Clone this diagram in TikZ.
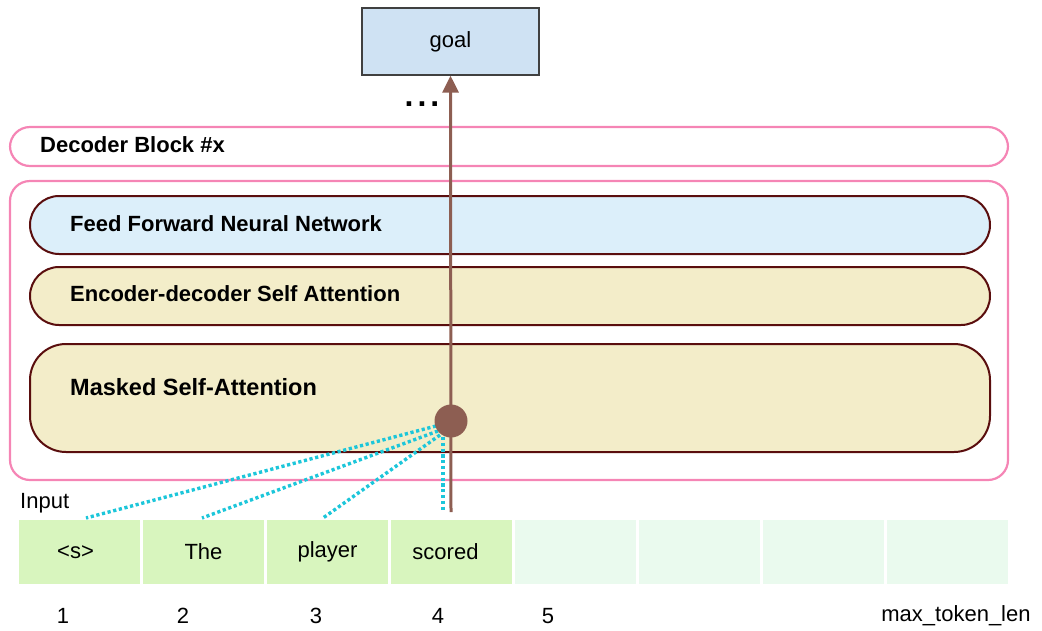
\documentclass[tikz,border=0pt]{standalone}
\usepackage{fontspec}
\setmainfont{Liberation Sans}
\usetikzlibrary{arrows.meta}
\definecolor{goalfill}{HTML}{CFE2F3}
\definecolor{pinkb}{HTML}{F585B5}
\definecolor{maroon}{HTML}{5A0E0E}
\definecolor{ffnnfill}{HTML}{DCEFFA}
\definecolor{attfill}{HTML}{F3EDC9}
\definecolor{brownc}{HTML}{8D5E52}
\definecolor{cyanc}{HTML}{1CC6DA}
\definecolor{tokfill}{HTML}{D8F5BE}
\definecolor{emptyfill}{HTML}{EAFAEE}
\tikzset{
  pinkbox/.style={draw=pinkb, line width=2.2pt, rounded corners=20pt},
  layerbox/.style={draw=maroon, line width=2pt},
  lbl/.style={font=\bfseries\fontsize{22}{26}\selectfont, anchor=west, inner sep=0},
  tokbox/.style={draw=white, line width=1.5pt, minimum width=123pt, minimum height=66pt, inner sep=0, font=\fontsize{22}{26}\selectfont},
  numlbl/.style={font=\fontsize{22}{26}\selectfont, inner sep=0},
  attline/.style={draw=cyanc, line width=3.4pt, dash pattern=on 3.2pt off 2.6pt},
}
\begin{document}
\begin{tikzpicture}[x=1pt,y=-1pt]
\useasboundingbox (0,0) rectangle (1042,630);
% goal
\node[draw=black!75, fill=goalfill, line width=1.2pt, minimum width=177pt, minimum height=67pt, inner sep=0, font=\fontsize{22}{26}\selectfont] (goal) at (450.5,41.5) {goal};
\node[font=\bfseries\fontsize{32}{34}\selectfont, inner sep=0] (dots) at (422,104) {.\kern4pt.\kern4pt.};
% decoder block header
\draw[pinkbox] (10,127) rectangle (1008,166);
\node[lbl] (dechdr) at (40,145) {Decoder Block \#x};
% big block
\draw[pinkbox] (10,181) rectangle (1008,480);
% layers
\draw[layerbox, fill=ffnnfill, rounded corners=29pt] (30,196) rectangle (990,254);
\node[lbl] (ffnn) at (70,224) {Feed Forward Neural Network};
\draw[layerbox, fill=attfill, rounded corners=29pt] (30,267) rectangle (990,325);
\node[lbl] (encdec) at (70,294) {Encoder-decoder Self Attention};
\draw[layerbox, fill=attfill, rounded corners=36pt] (30,344) rectangle (990,452);
\node[lbl, font=\bfseries\fontsize{23.5}{27}\selectfont] (masked) at (70,387) {Masked Self-Attention};
% tokens
\node[font=\fontsize{22}{26}\selectfont, anchor=west, inner sep=0] (input) at (20,503) {Input};
\node[tokbox, fill=tokfill] (t1) at (79.5,552) {\kern-8pt<s>};
\node[tokbox, fill=tokfill] (t2) at (203.5,552) {The};
\node[tokbox, fill=tokfill] (t3) at (327.5,552) {player};
\node[tokbox, fill=tokfill] (t4) at (451.5,552) {\kern-12pt scored};
\node[tokbox, fill=emptyfill] (t5) at (575.5,552) {};
\node[tokbox, fill=emptyfill] (t6) at (699.5,552) {};
\node[tokbox, fill=emptyfill] (t7) at (823.5,552) {};
\node[tokbox, fill=emptyfill] (t8) at (947.5,552) {};
% numbers
\node[numlbl] (n1) at (63,616) {1};
\node[numlbl] (n2) at (183,616) {2};
\node[numlbl] (n3) at (316,616) {3};
\node[numlbl] (n4) at (438,616) {4};
\node[numlbl] (n5) at (548,616) {5};
\node[numlbl] (nmax) at (956,616) {max\_token\_len};
% arrow
\coordinate (astart) at (451,512);
\draw[brownc, line width=3pt, -{Triangle[length=17pt,width=16pt]}] (astart) -- (goal.south);
% attention lines
\coordinate (e1) at (86,518);
\coordinate (e2) at (202,518);
\coordinate (e3) at (323,518);
\coordinate (e4) at (443,512);
\coordinate (s1) at (436,426);
\coordinate (s2) at (438,431);
\coordinate (s3) at (440,435);
\coordinate (s4) at (443,437);
\draw[attline] (s1) -- (e1);
\draw[attline] (s2) -- (e2);
\draw[attline] (s3) -- (e3);
\draw[attline] (s4) -- (e4);
\node[circle, fill=brownc, minimum size=33pt, inner sep=0] (c) at (451,421) {};
\end{tikzpicture}
\end{document}
